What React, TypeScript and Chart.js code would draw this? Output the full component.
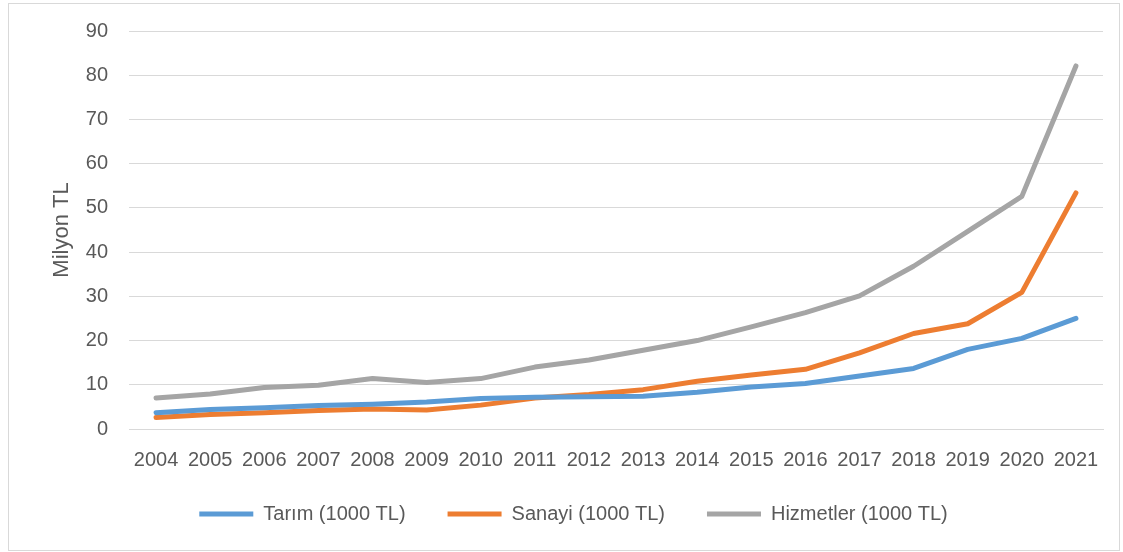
import React, { useEffect, useRef } from "react";
import { Chart, registerables } from "chart.js";

Chart.register(...registerables);

const years = ["2004", "2005", "2006", "2007", "2008", "2009", "2010", "2011", "2012", "2013", "2014", "2015", "2016", "2017", "2018", "2019", "2020", "2021"];
const tarim = [3.7, 4.4, 4.8, 5.3, 5.6, 6.1, 6.9, 7.2, 7.3, 7.4, 8.3, 9.5, 10.3, 12.0, 13.7, 18.0, 20.5, 25.0];
const sanayi = [2.6, 3.3, 3.7, 4.2, 4.5, 4.3, 5.4, 7.0, 7.8, 8.9, 10.8, 12.2, 13.5, 17.2, 21.6, 23.8, 30.9, 53.4];
const hizmetler = [7.0, 7.9, 9.4, 9.9, 11.4, 10.5, 11.4, 14.0, 15.6, 17.8, 20.0, 23.1, 26.3, 30.1, 36.8, 44.7, 52.6, 82.1];
const seriesNames = ["Tarım (1000 TL)", "Sanayi (1000 TL)", "Hizmetler (1000 TL)"];
const seriesColors = ["#5B9BD5", "#ED7D31", "#A5A5A5"];
const yTitle = "Milyon TL";

const FONT = "'Liberation Sans', Arial, sans-serif";
const TEXT = "#595959";

const legendShift = {
  id: "legendShift",
  afterLayout(chart: any) {
    const lg = chart.legend;
    if (lg) {
      lg.top -= 16;
      lg.bottom -= 16;
    }
  },
};

export default function App() {
  const ref = useRef<HTMLCanvasElement | null>(null);
  useEffect(() => {
    if (!ref.current) return;
    const data = [tarim, sanayi, hizmetler];
    const chart = new Chart(ref.current, {
      type: "line",
      data: {
        labels: years,
        datasets: data.map((d, i) => ({
          label: seriesNames[i],
          data: d,
          borderColor: seriesColors[i],
          backgroundColor: seriesColors[i],
          borderWidth: 5,
          borderCapStyle: "round" as const,
          borderJoinStyle: "round" as const,
          pointRadius: 0,
          tension: 0,
        })),
      },
      plugins: [legendShift],
      options: {
        responsive: false,
        animation: false,
        layout: { padding: { left: 35, right: 16, top: 27, bottom: 0 } },
        plugins: {
          tooltip: { enabled: false },
          legend: {
            position: "bottom",
            labels: {
              usePointStyle: true,
              pointStyle: "line",
              pointStyleWidth: 54,
              boxHeight: 5,
              padding: 42,
              color: TEXT,
              font: { family: FONT, size: 20 },
            },
          },
        },
        scales: {
          x: {
            offset: true,
            grid: { display: false, drawTicks: false },
            border: { display: true, color: "#D9D9D9", width: 1 },
            ticks: {
              color: TEXT,
              font: { family: FONT, size: 20 },
              padding: 19,
              maxRotation: 0,
              autoSkip: false,
            },
            afterFit: (s: any) => {
              s.height = 49;
            },
          },
          y: {
            min: 0,
            max: 90,
            ticks: {
              stepSize: 10,
              color: TEXT,
              font: { family: FONT, size: 20 },
              padding: 3,
            },
            grid: {
              color: "#D9D9D9",
              lineWidth: 1,
              drawTicks: true,
              tickLength: 18,
              tickColor: "rgba(0,0,0,0)",
            },
            border: { display: false },
            title: {
              display: true,
              text: yTitle,
              color: TEXT,
              font: { family: FONT, size: 22 },
              padding: { top: 5, bottom: 0 },
            },
            afterFit: (s: any) => {
              s.width = 85;
            },
          },
        },
      },
    });
    return () => chart.destroy();
  }, []);
  return (
    <div
      style={{
        position: "absolute",
        left: 8,
        top: 3,
        width: 1110,
        height: 546,
        border: "1px solid #D9D9D9",
        background: "#fff",
      }}
    >
      <canvas ref={ref} width={1110} height={546} style={{ display: "block" }} />
    </div>
  );
}
